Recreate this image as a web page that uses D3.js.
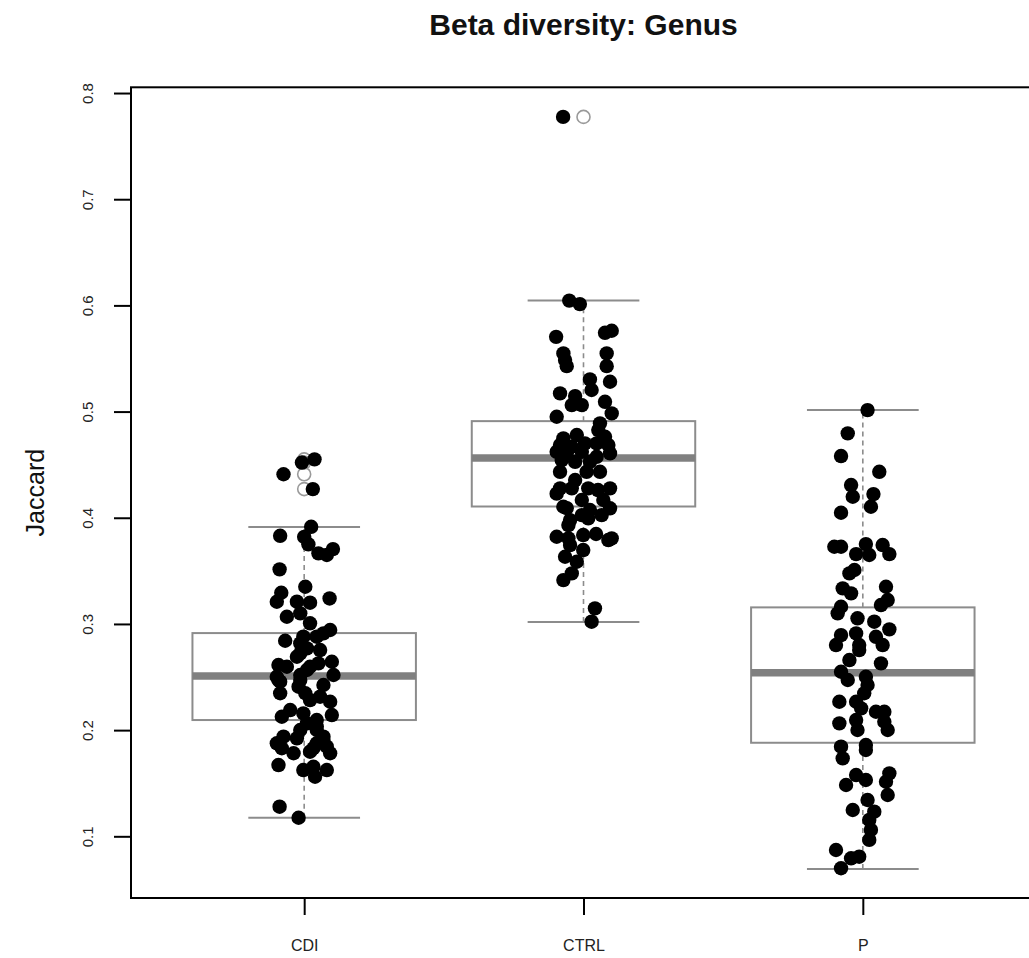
<!DOCTYPE html>
<html>
<head>
<meta charset="utf-8">
<script src="https://cdn.jsdelivr.net/npm/d3@7"></script>
<style>
  html, body { margin: 0; padding: 0; background: #ffffff; }
  svg { display: block; }
  text { font-family: "Liberation Sans", Arial, Helvetica, sans-serif; }
</style>
</head>
<body>
<div id="chart"></div>
<script>
// ---------------- data ----------------
const chartTitle = "Beta diversity: Genus";
const yLabel = "Jaccard";
const categories = ["CDI", "CTRL", "P"];
const yTickValues = [0.1, 0.2, 0.3, 0.4, 0.5, 0.6, 0.7, 0.8];

// boxplot statistics
const whiskerLow  = [0.1174, 0.3018, 0.0692];
const q1          = [0.2095, 0.4106, 0.1881];
const median      = [0.2510, 0.4563, 0.2540];
const q3          = [0.2914, 0.4910, 0.3156];
const whiskerHigh = [0.3913, 0.6045, 0.5014];

// jittered points: values and horizontal jitter (category units)
const cdiValues = [0.455,0.452,0.441,0.427,0.3915,0.383,0.382,0.375,0.3665,0.3705,0.365,0.3514,0.335,0.3294,0.3209,0.324,0.321,0.320,0.3068,0.310,0.3006,0.2943,0.2911,0.288,0.2842,0.2817,0.277,0.2754,0.2691,0.2613,0.2597,0.2629,0.2644,0.2566,0.2503,0.2519,0.2519,0.2425,0.2456,0.2409,0.2347,0.2347,0.2315,0.2267,0.2283,0.2189,0.2158,0.2126,0.2142,0.2095,0.2064,0.2001,0.2001,0.1938,0.1923,0.1876,0.1907,0.1829,0.1829,0.1782,0.1797,0.1782,0.1671,0.1624,0.1655,0.1624,0.1561,0.1279,0.1175,0.288,0.2723,0.2597,0.2472,0.2472,0.1876,0.1844,0.2033,0.1938];
const cdiJitter = [0.037,-0.008,-0.074,0.031,0.025,-0.086,0.000,0.015,0.051,0.103,0.081,-0.088,0.004,-0.082,-0.098,0.091,-0.026,0.021,-0.062,-0.014,0.021,0.093,0.069,0.045,-0.068,-0.014,0.010,0.057,-0.026,-0.092,-0.062,0.051,0.099,0.010,-0.098,-0.014,0.105,0.069,-0.086,-0.020,-0.086,0.004,0.057,0.093,0.021,-0.050,-0.003,-0.080,0.099,0.045,0.010,-0.014,0.045,-0.074,-0.026,-0.098,0.069,0.033,-0.080,-0.038,0.021,0.093,-0.092,-0.003,0.033,0.081,0.039,-0.088,-0.020,-0.003,-0.014,0.021,-0.092,-0.014,0.045,0.081,0.045,0.069];

const ctrlValues = [0.7775,0.6045,0.6012,0.5704,0.5742,0.5761,0.5548,0.5485,0.5428,0.5548,0.5428,0.5303,0.5281,0.5203,0.5171,0.5146,0.5061,0.5061,0.5092,0.4983,0.4951,0.4889,0.4826,0.4763,0.4748,0.4779,0.4685,0.4669,0.4701,0.4701,0.4685,0.4621,0.4606,0.4621,0.4606,0.4574,0.4543,0.4527,0.4527,0.4433,0.4433,0.4433,0.4277,0.4277,0.4277,0.4277,0.4104,0.4167,0.4167,0.4073,0.4089,0.4025,0.4025,0.3994,0.3931,0.3821,0.3806,0.3837,0.3847,0.379,0.3806,0.3743,0.3696,0.3633,0.3586,0.3476,0.3413,0.3147,0.3021,0.4227,0.4091,0.4355,0.4261,0.3978];
const ctrlJitter = [-0.073,-0.051,-0.013,-0.098,0.077,0.101,-0.072,-0.066,-0.060,0.083,0.083,0.023,0.095,0.029,-0.084,-0.030,-0.042,-0.006,0.077,0.101,-0.096,0.059,0.053,0.077,-0.072,-0.024,-0.084,-0.042,0.005,0.047,0.089,-0.096,-0.060,-0.006,0.095,0.047,-0.078,-0.030,0.023,-0.084,0.011,0.059,-0.084,-0.042,0.017,0.095,-0.072,-0.006,0.071,0.023,0.095,0.065,-0.006,0.017,-0.054,-0.096,-0.054,-0.001,0.045,0.089,0.101,-0.048,-0.001,-0.066,-0.024,-0.042,-0.072,0.041,0.029,-0.096,-0.060,-0.030,0.052,-0.048];

const pValues = [0.5014,0.4795,0.4581,0.4433,0.4308,0.4198,0.4223,0.4104,0.4047,0.3727,0.3727,0.3752,0.3743,0.3658,0.3649,0.3658,0.3508,0.3476,0.3335,0.3288,0.335,0.3225,0.3178,0.3162,0.310,0.3053,0.3021,0.2949,0.2895,0.2911,0.2879,0.2801,0.2801,0.2801,0.2754,0.266,0.2629,0.255,0.2503,0.2472,0.2425,0.2347,0.2267,0.2267,0.2205,0.2173,0.2173,0.2079,0.2001,0.2064,0.2095,0.2001,0.1844,0.1734,0.186,0.1813,0.1577,0.153,0.1483,0.1593,0.1514,0.1389,0.1342,0.1248,0.1232,0.1154,0.106,0.0966,0.0871,0.0793,0.0808,0.0699];
const pJitter = [0.017,-0.054,-0.078,0.059,-0.042,-0.036,0.038,0.029,-0.078,-0.102,-0.078,0.011,0.071,-0.024,0.023,0.095,-0.030,-0.048,-0.072,-0.042,0.083,0.089,0.065,-0.078,-0.090,-0.019,0.041,0.095,-0.078,-0.024,0.047,-0.096,-0.013,0.071,-0.013,-0.048,0.065,-0.078,0.011,-0.054,0.017,0.005,-0.084,-0.024,-0.006,0.047,0.077,0.077,0.089,-0.084,-0.024,-0.019,-0.078,-0.072,0.011,0.011,-0.024,0.011,-0.060,0.095,0.083,0.089,0.017,-0.036,0.041,0.023,0.029,0.023,-0.096,-0.042,-0.013,-0.078];

const groupValues = [cdiValues, ctrlValues, pValues];
const groupJitter = [cdiJitter, ctrlJitter, pJitter];

// ---------------- layout ----------------
const W = 1029, H = 958;
const plotLeft = 131, plotRight = 1036, plotTop = 87.3, plotBottom = 898;

const svg = d3.select("#chart").append("svg")
  .attr("width", W).attr("height", H)
  .style("overflow", "hidden");

const x = d3.scaleLinear().domain([0.38, 3.62]).range([plotLeft, plotRight]);
const y = d3.scaleLinear().domain([0.0419, 0.8054]).range([plotBottom, plotTop]);

const boxHalf = 0.4, capHalf = 0.2;
const boxColor = "#8c8c8c";

// boxplots
const boxData = categories.map((c, i) => ({
  c, pos: i + 1, lo: whiskerLow[i], q1: q1[i], med: median[i], q3: q3[i], hi: whiskerHigh[i]
}));
const bg = svg.append("g").attr("class", "boxes");
const b = bg.selectAll("g.box").data(boxData).join("g").attr("class", "box");

b.append("line") // lower dashed whisker
  .attr("x1", d => x(d.pos)).attr("x2", d => x(d.pos))
  .attr("y1", d => y(d.lo)).attr("y2", d => y(d.q1))
  .attr("stroke", boxColor).attr("stroke-width", 1.6).attr("stroke-dasharray", "5,4");
b.append("line") // upper dashed whisker
  .attr("x1", d => x(d.pos)).attr("x2", d => x(d.pos))
  .attr("y1", d => y(d.q3)).attr("y2", d => y(d.hi))
  .attr("stroke", boxColor).attr("stroke-width", 1.6).attr("stroke-dasharray", "5,4");
b.append("line") // low cap
  .attr("x1", d => x(d.pos - capHalf)).attr("x2", d => x(d.pos + capHalf))
  .attr("y1", d => y(d.lo)).attr("y2", d => y(d.lo))
  .attr("stroke", boxColor).attr("stroke-width", 2);
b.append("line") // high cap
  .attr("x1", d => x(d.pos - capHalf)).attr("x2", d => x(d.pos + capHalf))
  .attr("y1", d => y(d.hi)).attr("y2", d => y(d.hi))
  .attr("stroke", boxColor).attr("stroke-width", 2);
b.append("rect")
  .attr("x", d => x(d.pos - boxHalf)).attr("width", d => x(d.pos + boxHalf) - x(d.pos - boxHalf))
  .attr("y", d => y(d.q3)).attr("height", d => y(d.q1) - y(d.q3))
  .attr("fill", "none").attr("stroke", boxColor).attr("stroke-width", 2);
b.append("line") // median
  .attr("x1", d => x(d.pos - boxHalf)).attr("x2", d => x(d.pos + boxHalf))
  .attr("y1", d => y(d.med)).attr("y2", d => y(d.med))
  .attr("stroke", "#808080").attr("stroke-width", 7.5);

// boxplot outliers (open grey circles at the category centre)
const outliers = [];
groupValues.forEach((vals, i) => {
  vals.forEach(v => {
    if (v > whiskerHigh[i] + 0.0005 || v < whiskerLow[i] - 0.0005) outliers.push({ pos: i + 1, v });
  });
});
svg.append("g").selectAll("circle").data(outliers).join("circle")
  .attr("cx", d => x(d.pos)).attr("cy", d => y(d.v)).attr("r", 6.5)
  .attr("fill", "none").attr("stroke", "#9a9a9a").attr("stroke-width", 1.6);

// jittered points
const pts = [];
groupValues.forEach((vals, i) => {
  vals.forEach((v, j) => pts.push({ pos: i + 1 + groupJitter[i][j], v }));
});
svg.append("g").selectAll("circle").data(pts).join("circle")
  .attr("cx", d => x(d.pos)).attr("cy", d => y(d.v)).attr("r", 7.2)
  .attr("fill", "#000000");

// frame (top, left, bottom; right edge lies beyond the canvas)
svg.append("rect")
  .attr("x", plotLeft).attr("y", plotTop)
  .attr("width", plotRight - plotLeft).attr("height", plotBottom - plotTop)
  .attr("fill", "none").attr("stroke", "#000").attr("stroke-width", 2);

// y axis
const yAxis = svg.append("g")
  .attr("transform", `translate(${plotLeft},0)`)
  .call(d3.axisLeft(y).tickValues(yTickValues).tickSize(17).tickSizeOuter(0).tickFormat(d3.format(".1f")));
yAxis.select(".domain").remove();
yAxis.selectAll(".tick line").attr("stroke", "#000").attr("stroke-width", 2);
yAxis.selectAll(".tick text")
  .attr("x", null).attr("dy", "0.35em")
  .attr("transform", "translate(-43,0) rotate(-90)")
  .attr("text-anchor", "middle")
  .attr("font-size", 15).attr("fill", "#222");

// x axis
const xAxis = svg.append("g")
  .attr("transform", `translate(0,${plotBottom})`)
  .call(d3.axisBottom(x).tickValues(categories.map((c, i) => i + 1)).tickSize(17).tickSizeOuter(0)
    .tickFormat((d, i) => categories[i]));
xAxis.select(".domain").remove();
xAxis.selectAll(".tick line").attr("stroke", "#000").attr("stroke-width", 2);
xAxis.selectAll(".tick text")
  .attr("y", 47).attr("dy", "0.35em")
  .attr("font-size", 16).attr("fill", "#222");

// title and y label
svg.append("text")
  .attr("x", x(2)).attr("y", 35)
  .attr("text-anchor", "middle")
  .attr("font-size", 30).attr("font-weight", "bold").attr("fill", "#111")
  .text(chartTitle);

svg.append("text")
  .attr("transform", `translate(35,${(plotTop + plotBottom) / 2}) rotate(-90)`)
  .attr("dy", "0.35em")
  .attr("text-anchor", "middle")
  .attr("font-size", 25).attr("fill", "#111")
  .text(yLabel);
</script>
</body>
</html>
